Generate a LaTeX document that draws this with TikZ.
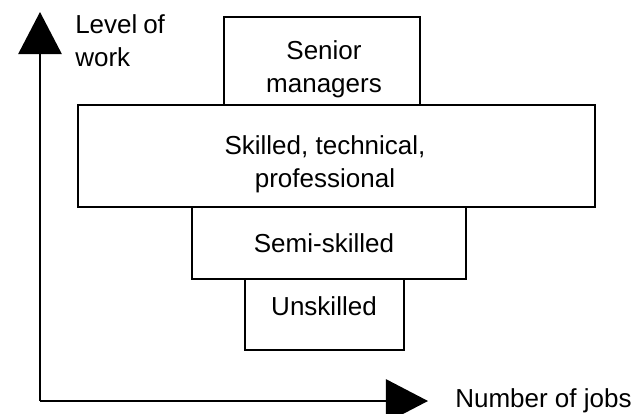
\documentclass[tikz,border=0pt]{standalone}
\usepackage{fontspec}
\setmainfont{Liberation Sans}
\usetikzlibrary{arrows.meta}
\tikzset{>={Triangle[length=1.05cm,width=1.08cm]}}
\tikzset{level/.style={draw,line width=1.4pt},
         lbl/.style={inner sep=0pt,align=center,font=\fontsize{18.5}{23.7}\selectfont}}

\begin{document}
\begin{tikzpicture}[x=0.025cm,y=-0.025cm]
\useasboundingbox (0,0) rectangle (641,414);

% the levels of work, widest in the middle
\draw[level] (224,17) rectangle (420,105);
\draw[level] (78,105) rectangle (595,207);
\draw[level] (192,207) rectangle (466,279);
\draw[level] (245,279) rectangle (404,350);

\node[lbl] (senior) at (324,69) {Senior\\managers};
\node[lbl] (skilled) at (325,164) {Skilled, technical,\\professional};
\node[lbl] (semi) at (324,243) {Semi-skilled};
\node[lbl] (unskilled) at (324,306) {Unskilled};

% axes
\coordinate (origin) at (40,401);
\coordinate (ytip) at (40,12);
\coordinate (xtip) at (428,401);
\draw[line width=1.4pt,->] (origin) -- (ytip);
\draw[line width=1.4pt,->] (origin) -- (xtip);

\node[lbl,align=left,anchor=north west] (ylabel) at (75,14) {Level\hspace{-1pt} of\\work};
\node[lbl,anchor=base west] (xlabel) at (455,407) {Number of jobs};
\end{tikzpicture}
\end{document}
